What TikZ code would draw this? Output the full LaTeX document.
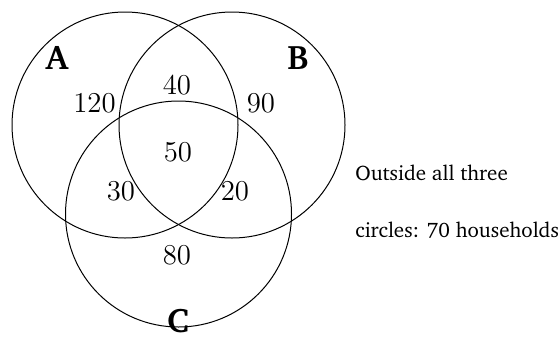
\documentclass[tikz,border=0pt]{standalone}
\usepackage[T1]{fontenc}
\usepackage{charter}
\usepackage{tikz}

\begin{document}
\begin{tikzpicture}[
  x=0.5pt, y=-0.5pt,
  every node/.style={inner sep=0pt},
  set/.style={draw, circle, line width=0.5pt, minimum size=113pt},
  setname/.style={font=\fontsize{17}{19}\selectfont\bfseries},
  count/.style={font=\fontsize{14}{16}\selectfont},
  note/.style={anchor=west, font=\fontsize{10.5}{12}\selectfont}
]
\useasboundingbox (0,0) rectangle (560,338);
\node[set] (circA) at (125,125) {};
\node[set] (circB) at (232,125) {};
\node[set] (circC) at (178.5,214) {};
\node[setname] (labA) at (57,58) {A};
\node[setname] (labB) at (298,58) {B};
\node[setname] (labC) at (178,321) {C};
\node[count] (onlyA) at (94.5,103) {$120$};
\node[count] (AB) at (177,85) {$40$};
\node[count] (onlyB) at (261,103) {$90$};
\node[count] (ABC) at (178,152) {$50$};
\node[count] (AC) at (121,191) {$30$};
\node[count] (BC) at (235,191) {$20$};
\node[count] (onlyC) at (177,255) {$80$};
\node[note] (out1) at (355,173) {Outside all three};
\node[note] (out2) at (355,230) {circles: 70 households};
\end{tikzpicture}
\end{document}
